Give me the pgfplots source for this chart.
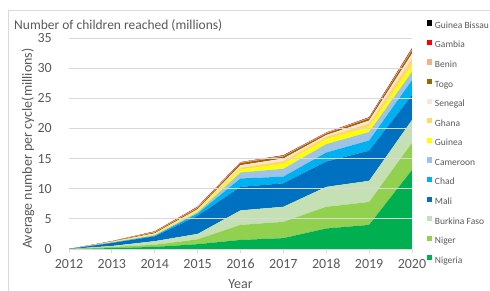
\documentclass[border=0pt]{standalone}
\usepackage{pgfplots}
\pgfplotsset{compat=1.18}
\usepackage{fontspec}
\setmainfont{Carlito}
\definecolor{txt}{HTML}{595959}
\definecolor{gridc}{HTML}{D9D9D9}
\definecolor{cGB}{HTML}{000000}
\definecolor{cGam}{HTML}{FF0000}
\definecolor{cBen}{HTML}{F4B183}
\definecolor{cTogo}{HTML}{9C6500}
\definecolor{cSen}{HTML}{FBE5D6}
\definecolor{cGha}{HTML}{FFD966}
\definecolor{cGui}{HTML}{FFFF00}
\definecolor{cCam}{HTML}{9DC3E6}
\definecolor{cChad}{HTML}{00B0F0}
\definecolor{cMali}{HTML}{0070C0}
\definecolor{cBF}{HTML}{C5E0B4}
\definecolor{cNiger}{HTML}{92D050}
\definecolor{cNigeria}{HTML}{00B050}
\begin{document}
\begin{tikzpicture}
\draw[gridc, line width=0.8pt] (8pt,-10pt) rectangle (520pt,281pt);
\node[anchor=base west, text=txt, font=\fontsize{13.5}{16}\selectfont, inner sep=0pt] at (14pt,261.7pt) {Number of children reached (millions)};
\begin{axis}[
  at={(69pt,42pt)}, anchor=south west,
  scale only axis, width=343pt, height=211pt,
  xmin=2012, xmax=2020, ymin=0, ymax=35,
  xtick={2012,2013,...,2020}, ytick={0,5,...,35},
  /pgf/number format/assume math mode=true,
  /pgf/number format/1000 sep={},
  axis x line*=bottom, axis y line*=left,
  x axis line style={draw=gridc, line width=0.8pt, -},
  y axis line style={draw=none},
  xtick style={draw=gridc, line width=0.8pt},
  ytick style={draw=none},
  tick align=outside, major tick length=4pt,
  ymajorgrids, grid style={draw=gridc, line width=0.8pt},
  ticklabel style={text=txt, font=\fontsize{14}{16}\selectfont},
  xticklabel style={anchor=north, inner sep=0pt, yshift=-6pt},
  yticklabel style={anchor=east, inner sep=0pt, xshift=-13pt},
  xlabel={Year}, ylabel={Average number per cycle(millions)},
  xlabel style={at={(axis description cs:0.5,-0.187)}, anchor=base, inner sep=0pt, text=txt, font=\fontsize{14}{16}\selectfont},
  ylabel style={at={(axis description cs:-0.1195,0.475)}, anchor=center, rotate=0, text=txt, font=\fontsize{14}{16}\selectfont},
  stack plots=y, area style,
  legend image code/.code={\fill[#1] (0pt,0.3pt) rectangle (5pt,5.5pt);},
  reverse legend,
  legend cell align=left,
  legend style={at={(axis description cs:1.0437,1.0839)}, anchor=north west,
    draw=none, fill=none, inner sep=0pt, outer sep=0pt,
    font=\fontsize{9.5}{11}\selectfont, text=txt,
    nodes={inner sep=0pt, text height=7pt, text depth=2pt},
    row sep=9.58pt,
    /tikz/every odd column/.append style={column sep=3pt}},
]
\addplot[fill=cNigeria, draw=none] coordinates {(2012,0) (2013,0.15) (2014,0.35) (2015,0.8) (2016,1.5) (2017,1.8) (2018,3.4) (2019,4.0) (2020,13.1)} \closedcycle;
\addlegendentry{Nigeria}
\addplot[fill=cNiger, draw=none] coordinates {(2012,0) (2013,0.2) (2014,0.35) (2015,0.8) (2016,2.5) (2017,2.7) (2018,3.6) (2019,3.8) (2020,4.5)} \closedcycle;
\addlegendentry{Niger}
\addplot[fill=cBF, draw=none] coordinates {(2012,0) (2013,0.15) (2014,0.6) (2015,0.9) (2016,2.4) (2017,2.5) (2018,3.3) (2019,3.5) (2020,3.8)} \closedcycle;
\addlegendentry{Burkina Faso}
\addplot[fill=cMali, draw=none] coordinates {(2012,0) (2013,0.5) (2014,0.8) (2015,3.0) (2016,3.9) (2017,3.9) (2018,4.2) (2019,5.0) (2020,4.1)} \closedcycle;
\addlegendentry{Mali}
\addplot[fill=cChad, draw=none] coordinates {(2012,0) (2013,0.05) (2014,0.1) (2015,0.4) (2016,1.4) (2017,1.1) (2018,1.5) (2019,1.7) (2020,2.5)} \closedcycle;
\addlegendentry{Chad}
\addplot[fill=cCam, draw=none] coordinates {(2012,0) (2013,0.05) (2014,0.1) (2015,0.2) (2016,1.0) (2017,1.3) (2018,1.4) (2019,1.4) (2020,1.4)} \closedcycle;
\addlegendentry{Cameroon}
\addplot[fill=cGui, draw=none] coordinates {(2012,0) (2013,0.05) (2014,0.1) (2015,0.2) (2016,0.5) (2017,0.8) (2018,0.8) (2019,0.8) (2020,1.1)} \closedcycle;
\addlegendentry{Guinea}
\addplot[fill=cGha, draw=none] coordinates {(2012,0) (2013,0.03) (2014,0.1) (2015,0.15) (2016,0.3) (2017,0.5) (2018,0.4) (2019,0.6) (2020,1.1)} \closedcycle;
\addlegendentry{Ghana}
\addplot[fill=cSen, draw=none] coordinates {(2012,0) (2013,0.04) (2014,0.1) (2015,0.15) (2016,0.4) (2017,0.4) (2018,0.3) (2019,0.5) (2020,0.8)} \closedcycle;
\addlegendentry{Senegal}
\addplot[fill=cTogo, draw=none] coordinates {(2012,0) (2013,0.04) (2014,0.15) (2015,0.2) (2016,0.35) (2017,0.35) (2018,0.25) (2019,0.35) (2020,0.5)} \closedcycle;
\addlegendentry{Togo}
\addplot[fill=cBen, draw=none] coordinates {(2012,0) (2013,0.02) (2014,0.1) (2015,0.1) (2016,0.1) (2017,0.1) (2018,0.1) (2019,0.1) (2020,0.2)} \closedcycle;
\addlegendentry{Benin}
\addplot[fill=cGam, draw=none] coordinates {(2012,0) (2013,0.02) (2014,0.05) (2015,0.1) (2016,0.05) (2017,0.05) (2018,0.05) (2019,0.05) (2020,0.1)} \closedcycle;
\addlegendentry{Gambia}
\addplot[fill=cGB, draw=none] coordinates {(2012,0) (2013,0) (2014,0.02) (2015,0) (2016,0) (2017,0.05) (2018,0) (2019,0.05) (2020,0.1)} \closedcycle;
\addlegendentry{Guinea Bissau}
\end{axis}
\pgfresetboundingbox
\path[use as bounding box] (0pt,0pt) rectangle (490pt,291pt);
\end{tikzpicture}
\end{document}
